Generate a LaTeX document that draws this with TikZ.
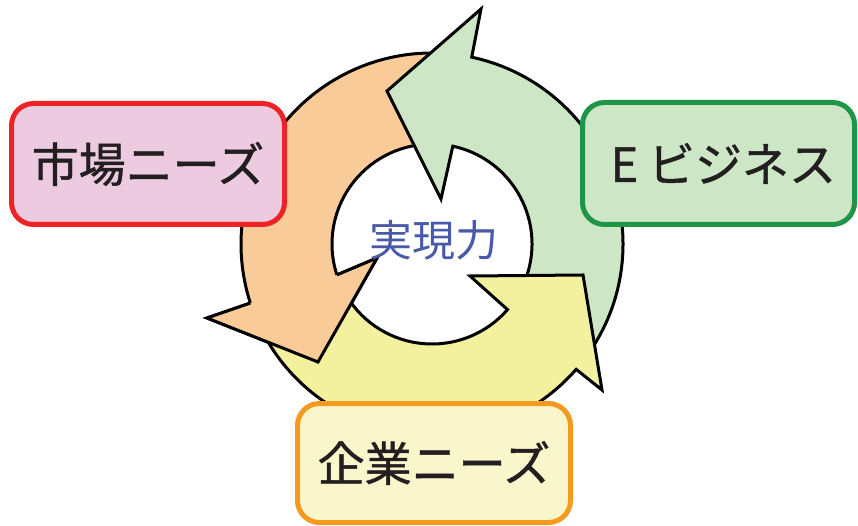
\documentclass[tikz,border=0pt]{standalone}
\usepackage{fontspec}
\newfontfamily\jpfont{Noto Sans CJK JP}
\newfontfamily\jpboxfont[FakeBold=1]{Noto Sans CJK JP}
\usetikzlibrary{calc}
\definecolor{arrO}{RGB}{249,203,153}
\definecolor{arrG}{RGB}{205,230,197}
\definecolor{arrY}{RGB}{244,241,158}
\definecolor{pinkF}{RGB}{236,203,224}
\definecolor{redS}{RGB}{237,35,38}
\definecolor{greenF}{RGB}{205,230,197}
\definecolor{greenS}{RGB}{31,149,71}
\definecolor{yelF}{RGB}{250,246,204}
\definecolor{orS}{RGB}{243,154,31}
\definecolor{txtG}{RGB}{35,31,32}
\definecolor{txtB}{RGB}{72,90,168}
\tikzset{
  arrowline/.style={draw=black, line width=3pt, line join=miter},
  labelbox/.style={rounded corners=22pt, line width=5pt, minimum width=273pt,
    minimum height=121pt, inner sep=0pt, text=txtG,
    font=\jpboxfont\fontsize{47}{56}\selectfont},
}
\begin{document}
\begin{tikzpicture}[x=1pt,y=1pt]
\useasboundingbox (0,0) rectangle (858,-526);
\coordinate (C) at (432,-244);
% orange arrow points
\coordinate (Owo) at (207,-318);
\coordinate (Otip) at (318,-362);
\coordinate (Owi) at (377,-258);
% green arrow points
\coordinate (Gwo) at (481,-9);
\coordinate (Gtip) at (387,-91);
\coordinate (Gwi) at (441,-199);
% yellow arrow points
\coordinate (Ywo) at (602,-390);
\coordinate (Ytip) at (583,-275);
\coordinate (Ywi) at (470,-276);
% orange arrow
\path[arrowline, fill=arrO] ($(C)+(85:191)$) arc[start angle=85,end angle=198,radius=191]
  -- (Owo) -- (Otip) -- (Owi) -- ($(C)+(198:100)$)
  arc[start angle=198,end angle=85,radius=100] -- cycle;
% green arrow
\path[arrowline, fill=arrG] ($(C)+(-38:191)$) arc[start angle=-38,end angle=78,radius=191]
  -- (Gwo) -- (Gtip) -- (Gwi) -- ($(C)+(78:100)$)
  arc[start angle=78,end angle=-38,radius=100] -- cycle;
% yellow arrow
\path[arrowline, fill=arrY] ($(C)+(205:191)$) arc[start angle=205,end angle=319,radius=191]
  -- (Ywo) -- (Ytip) -- (Ywi) -- ($(C)+(319:100)$)
  arc[start angle=319,end angle=205,radius=100] -- cycle;
% orange head again on top of the yellow tail
\fill[arrO] ($(C)+(198:191)$) -- (Owo) -- (Otip) -- (Owi) -- ($(C)+(198:100)$) -- cycle;
\draw[arrowline] ($(C)+(198:191)$) -- (Owo) -- (Otip) -- (Owi) -- ($(C)+(198:100)$);
% centre text
\node[text=txtB, font=\jpfont\fontsize{43}{50}\selectfont, inner sep=0pt] (core) at (434,-240) {実現力};
% boxes
\node[labelbox, draw=redS, fill=pinkF] (market) at (148,-164) {\raisebox{-2pt}{市場ニーズ}};
\node[labelbox, draw=greenS, fill=greenF, minimum width=272pt, minimum height=122pt] (ebiz) at (718.5,-163.5) {\raisebox{-2pt}{\makebox[1em]{E}ビジネス}};
\node[labelbox, draw=orS, fill=yelF, minimum height=119pt] (corp) at (434,-463) {\raisebox{-4pt}{企業ニーズ}};
\end{tikzpicture}
\end{document}
